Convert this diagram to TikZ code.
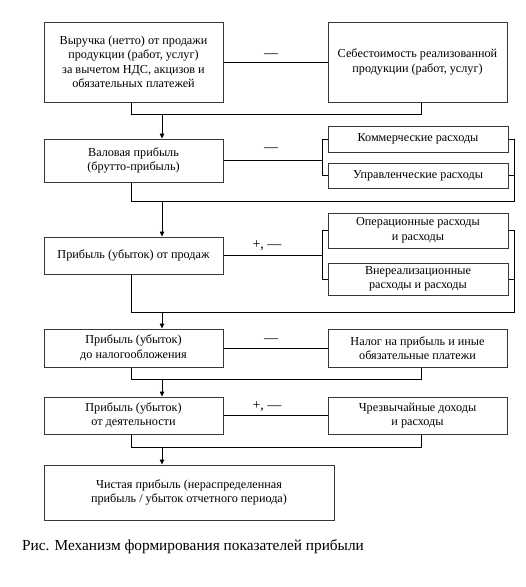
\documentclass[tikz,border=0pt]{standalone}
\usepackage{fontspec}
\setmainfont{Liberation Serif}
\usetikzlibrary{arrows.meta}
\begin{document}
\begin{tikzpicture}[x=1pt,y=-1pt,
  box/.style={draw=black!78,line width=1pt,align=center,inner sep=0pt,
    font=\fontsize{12.2}{14.5}\selectfont},
  conn/.style={line width=0.8pt,black},
  arr/.style={conn,-{Triangle[length=5pt,width=4.5pt]}},
  lbl/.style={font=\fontsize{14}{15}\selectfont,inner sep=0pt}]
\useasboundingbox (0,0) rectangle (526,587);
% main column
\node[box,minimum width=179pt,minimum height=80pt] (b1) at (133.5,62) {Выручка (нетто) от продажи\\продукции (работ, услуг)\\за вычетом НДС, акцизов и\\обязательных платежей};
\node[box,minimum width=179pt,minimum height=80pt] (b2) at (417.5,62) {Себестоимость реализованной\\продукции (работ, услуг)};
\node[box,minimum width=179pt,minimum height=43pt] (b3) at (133.5,160.5) {Валовая прибыль\\(брутто-прибыль)};
\node[box,minimum width=180pt,minimum height=26pt] (k1) at (418,139) {Коммерческие расходы};
\node[box,minimum width=180pt,minimum height=25pt] (k2) at (418,175.5) {Управленческие расходы};
\node[box,minimum width=179pt,minimum height=37pt] (b4) at (133.5,255.5) {Прибыль (убыток) от продаж};
\node[box,minimum width=180pt,minimum height=35pt] (o1) at (418,230.5) {Операционные расходы\\и расходы};
\node[box,minimum width=180pt,minimum height=32pt] (o2) at (418,279) {Внереализационные\\расходы и расходы};
\node[box,minimum width=179pt,minimum height=38pt] (b5) at (133.5,348) {Прибыль (убыток)\\до налогообложения};
\node[box,minimum width=179pt,minimum height=38pt] (n) at (417.5,348) {Налог на прибыль и иные\\обязательные платежи};
\node[box,minimum width=179pt,minimum height=37pt] (b6) at (133.5,415.5) {Прибыль (убыток)\\от деятельности};
\node[box,minimum width=179pt,minimum height=37pt] (c) at (417.5,415.5) {Чрезвычайные доходы\\и расходы};
\node[box,minimum width=290pt,minimum height=55pt] (b7) at (189,492.5) {Чистая прибыль (нераспределенная\\прибыль / убыток отчетного периода)};
% coordinates
\coordinate (lb) at (322,0);
\coordinate (rb) at (514,0);
\coordinate (ax) at (162,0);
\coordinate (jx) at (131,0);
\coordinate (j1) at (0,114);
\coordinate (j2) at (0,201);
\coordinate (j3) at (0,312);
\coordinate (j4) at (0,379);
\coordinate (j5) at (0,447);
% step 1
\draw[conn] (b1.east) -- (b2.west);
\draw[conn] (jx |- b1.south) -- (jx |- j1) -| ([xshift=3.5]b2.south);
\draw[arr] (ax |- j1) -- (ax |- b3.north);
% step 2
\draw[conn] (b3.east) -- (lb |- b3.east);
\draw[conn] (k1.west) -- (lb |- k1.west) -- (lb |- k2.west) -- (k2.west);
\draw[conn] (k1.east) -- (rb |- k1.east) -- (rb |- j2) -- (jx |- j2) -- (jx |- b3.south);
\draw[conn] (k2.east) -- (rb |- k2.east);
\draw[arr] (ax |- j2) -- (ax |- b4.north);
% step 3
\draw[conn] (b4.east) -- (lb |- b4.east);
\draw[conn] (o1.west) -- (lb |- o1.west) -- (lb |- o2.west) -- (o2.west);
\draw[conn] (o1.east) -- (rb |- o1.east) -- (rb |- j3) -- (jx |- j3) -- (jx |- b4.south);
\draw[conn] (o2.east) -- (rb |- o2.east);
\draw[arr] (ax |- j3) -- (ax |- b5.north);
% step 4
\draw[conn] (b5.east) -- (b5.east -| n.west);
\draw[conn] (jx |- b5.south) -- (jx |- j4) -| ([xshift=3.5]n.south);
\draw[arr] (ax |- j4) -- (ax |- b6.north);
% step 5
\draw[conn] (b6.east) -- (c.west);
\draw[conn] (jx |- b6.south) -- (jx |- j5) -| ([xshift=3.5]c.south);
\draw[arr] (ax |- j5) -- (ax |- b7.north);
% labels
\node[lbl] (l1) at (271,56) {—};
\node[lbl] (l2) at (271,150) {—};
\node[lbl] (l3) at (267,246) {+, —};
\node[lbl] (l4) at (271,341) {—};
\node[lbl] (l5) at (267,407) {+, —};
% caption
\node[anchor=west,inner sep=0pt,font=\fontsize{15.3}{17}\selectfont] (cap) at (22,547) {Рис. Механизм формирования показателей прибыли};
\end{tikzpicture}
\end{document}
